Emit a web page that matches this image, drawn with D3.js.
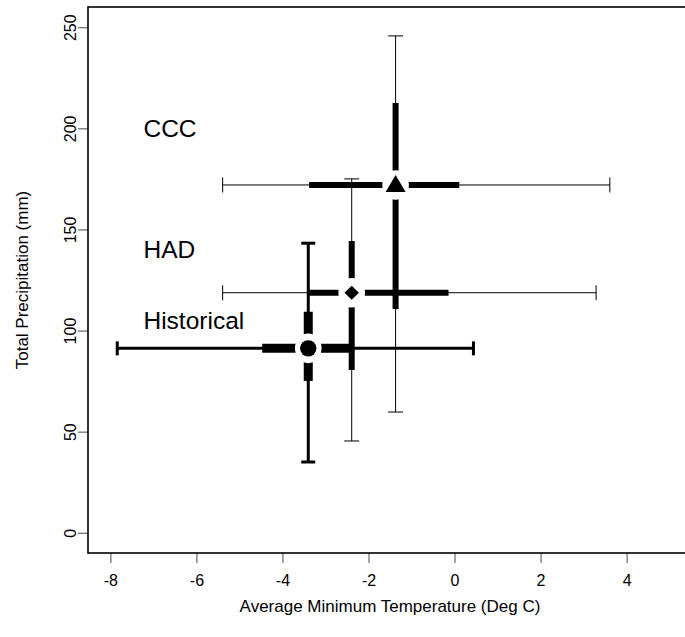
<!DOCTYPE html>
<html><head><meta charset="utf-8">
<script src="https://cdn.jsdelivr.net/npm/d3@7"></script>
<style>body{margin:0;background:#fff}svg{display:block}text{font-family:"Liberation Sans",Arial,sans-serif;fill:#000}</style>
</head><body>
<script>
// ---- data ----
const series = ["Historical", "HAD", "CCC"];
const meanTemp = [-3.40, -2.39, -1.37];
const meanPrecip = [91.2, 118.7, 172.0];
const tempRangeLow = [-7.84, -5.39, -5.39];
const tempRangeHigh = [0.44, 3.29, 3.61];
const tempInnerLow = [-4.47, -3.38, -3.38];
const tempInnerHigh = [-2.39, -0.14, 0.11];
const precipRangeLow = [35.0, 45.4, 59.7];
const precipRangeHigh = [143.2, 175.0, 245.7];
const precipInnerLow = [75.1, 80.5, 110.7];
const precipInnerHigh = [109.3, 144.3, 212.5];
const labelTemp = [-7.23, -7.23, -7.23];
const labelPrecip = [105, 140, 200];
const xTicks = [-8, -6, -4, -2, 0, 2, 4];
const yTicks = [0, 50, 100, 150, 200, 250];
const xTitle = "Average Minimum Temperature (Deg C)";
const yTitle = "Total Precipitation (mm)";

// ---- styles ----
const W = 685, H = 637;
const style = {
  Historical: {thin: 3, thick: 9, cap: 14, marker: "circle"},
  HAD: {thin: 1, thick: 6, cap: 15, marker: "diamond"},
  CCC: {thin: 1, thick: 6, cap: 15, marker: "triangle"}
};

const svg = d3.select("body").append("svg").attr("width", W).attr("height", H);
const x = d3.scaleLinear().domain([-8.52, 5.52]).range([88, 692]);
const y = d3.scaleLinear().domain([-10, 260]).range([553, 7]);
const fmt = d => String(d);

// axes
const xAxis = svg.append("g").attr("transform", `translate(0,${y.range()[0]})`)
  .call(d3.axisBottom(x).tickValues(xTicks).tickFormat(fmt).tickSize(10).tickPadding(12));
const yAxis = svg.append("g").attr("transform", `translate(${x.range()[0]},0)`)
  .call(d3.axisLeft(y).tickValues(yTicks).tickFormat(fmt).tickSize(10).tickPadding(8));
[xAxis, yAxis].forEach(g => {
  g.select(".domain").remove();
  g.selectAll(".tick line").attr("stroke", "#666").attr("stroke-width", 1.2);
  g.selectAll(".tick text").style("font-size", "16px").attr("fill", "#000");
});
yAxis.selectAll(".tick text")
  .attr("text-anchor", "middle")
  .attr("transform", `rotate(-90,-18,0)`)
  .attr("x", -18).attr("dy", "0.35em");

// box
svg.append("rect").attr("x", x.range()[0]).attr("y", y.range()[1])
  .attr("width", x.range()[1] - x.range()[0]).attr("height", y.range()[0] - y.range()[1])
  .attr("fill", "none").attr("stroke", "#000").attr("stroke-width", 1.6);

// titles
svg.append("text").attr("x", (x.range()[0] + x.range()[1]) / 2).attr("y", 612)
  .attr("text-anchor", "middle").style("font-size", "17px").text(xTitle);
svg.append("text").attr("transform", `translate(28,${(y.range()[0] + y.range()[1]) / 2}) rotate(-90)`)
  .attr("text-anchor", "middle").style("font-size", "17px").text(yTitle);

const data = series.map((s, i) => ({
  s, mx: meanTemp[i], my: meanPrecip[i],
  xl: tempRangeLow[i], xh: tempRangeHigh[i], xil: tempInnerLow[i], xih: tempInnerHigh[i],
  yl: precipRangeLow[i], yh: precipRangeHigh[i], yil: precipInnerLow[i], yih: precipInnerHigh[i],
  lx: labelTemp[i], ly: labelPrecip[i]
}));

const plot = svg.append("g");
data.forEach(d => {
  const st = style[d.s];
  const g = plot.append("g");
  const line = (x1, y1, x2, y2, w) => g.append("line")
    .attr("x1", x1).attr("y1", y1).attr("x2", x2).attr("y2", y2)
    .attr("stroke", "#000").attr("stroke-width", w);
  line(x(d.xl), y(d.my), x(d.xh), y(d.my), st.thin);
  line(x(d.mx), y(d.yl), x(d.mx), y(d.yh), st.thin);
  const c = st.cap / 2;
  line(x(d.xl), y(d.my) - c, x(d.xl), y(d.my) + c, st.thin);
  line(x(d.xh), y(d.my) - c, x(d.xh), y(d.my) + c, st.thin);
  line(x(d.mx) - c, y(d.yl), x(d.mx) + c, y(d.yl), st.thin);
  line(x(d.mx) - c, y(d.yh), x(d.mx) + c, y(d.yh), st.thin);
  line(x(d.xil), y(d.my), x(d.xih), y(d.my), st.thick);
  line(x(d.mx), y(d.yil), x(d.mx), y(d.yih), st.thick);
});
data.forEach(d => {
  const st = style[d.s];
  const cx = x(d.mx), cy = y(d.my);
  plot.append("ellipse").attr("cx", cx).attr("cy", cy).attr("rx", 13.3).attr("ry", 14.8).attr("fill", "#fff");
  if (st.marker === "circle") {
    plot.append("circle").attr("cx", cx).attr("cy", cy).attr("r", 8.2).attr("fill", "#000");
  } else if (st.marker === "diamond") {
    plot.append("path").attr("d", `M${cx},${cy-7}L${cx+7.2},${cy}L${cx},${cy+7}L${cx-7.2},${cy}Z`).attr("fill", "#000");
  } else {
    plot.append("path").attr("d", `M${cx},${cy-10}L${cx+10},${cy+7}L${cx-10},${cy+7}Z`).attr("fill", "#000");
  }
  svg.append("text").attr("x", x(d.lx)).attr("y", y(d.ly)).attr("dy", "0.36em")
    .style("font-size", "24.5px").text(d.s);
});
</script>
</body></html>
